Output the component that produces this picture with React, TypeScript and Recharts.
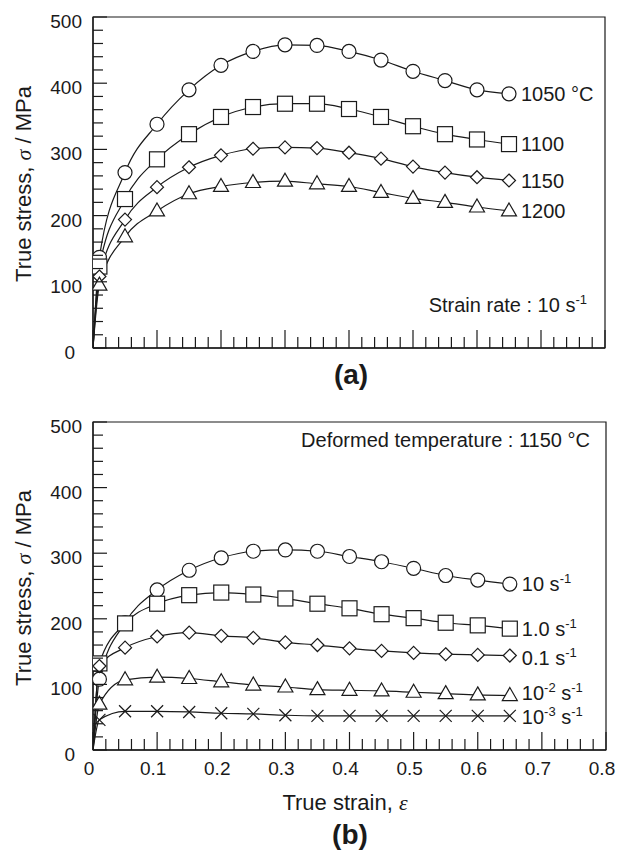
import React from "react";
import { LineChart, Line, XAxis, YAxis, ReferenceArea } from "recharts";

const FONT = '"Liberation Sans", Arial, Helvetica, sans-serif';
const INK = "#1a1a1a";

// strain points where markers sit (0 = origin, no marker)
const strain = [0, 0.01, 0.05, 0.1, 0.15, 0.2, 0.25, 0.3, 0.35, 0.4, 0.45, 0.5, 0.55, 0.6, 0.65];

// (a) strain rate 10 s-1, by temperature
const t1050 = [0, 137, 265, 338, 390, 427, 448, 458, 457, 448, 435, 418, 404, 390, 384];
const t1100 = [0, 123, 225, 285, 323, 349, 364, 369, 369, 361, 349, 335, 323, 315, 308];
const t1150 = [0, 108, 194, 243, 273, 291, 301, 303, 302, 295, 286, 274, 265, 258, 253];
const t1200 = [0, 95, 168, 207, 233, 244, 250, 252, 248, 244, 235, 226, 220, 213, 207];

// (b) 1150 °C, by strain rate
const r10 = [0, 108, 194, 244, 274, 293, 303, 305, 303, 295, 287, 277, 266, 259, 253];
const r1 = [0, 132, 193, 223, 236, 240, 237, 231, 223, 216, 207, 201, 194, 190, 185];
const r01 = [0, 128, 156, 173, 179, 174, 171, 164, 160, 155, 151, 148, 146, 145, 144];
const r001 = [0, 70, 107, 111, 109, 104, 99, 96, 92, 91, 90, 88, 86, 84, 83];
const r0001 = [0, 46, 59, 59, 58, 56, 55, 53, 52, 52, 52, 52, 52, 52, 52];

const xTicks = [
  0, 0.02, 0.04, 0.06, 0.08, 0.1, 0.12, 0.14, 0.16, 0.18, 0.2, 0.22, 0.24, 0.26, 0.28, 0.3,
  0.32, 0.34, 0.36, 0.38, 0.4, 0.42, 0.44, 0.46, 0.48, 0.5, 0.52, 0.54, 0.56, 0.58, 0.6,
  0.62, 0.64, 0.66, 0.68, 0.7, 0.72, 0.74, 0.76, 0.78, 0.8,
];
const yTicks = [
  0, 20, 40, 60, 80, 100, 120, 140, 160, 180, 200, 220, 240, 260, 280, 300,
  320, 340, 360, 380, 400, 420, 440, 460, 480, 500,
];

const sup = (t: string) => (
  <tspan dy={-8} fontSize={13}>{t}</tspan>
);

const seriesA = [
  { key: "t1050", values: t1050, shape: "circle", dy: 0, label: <tspan>1050 °C</tspan> },
  { key: "t1100", values: t1100, shape: "square", dy: 0, label: <tspan>1100</tspan> },
  { key: "t1150", values: t1150, shape: "diamond", dy: 0, label: <tspan>1150</tspan> },
  { key: "t1200", values: t1200, shape: "triangle", dy: 0, label: <tspan>1200</tspan> },
];

const seriesB = [
  { key: "r10", values: r10, shape: "circle", dy: 0, label: <><tspan>10 s</tspan>{sup("-1")}</> },
  { key: "r1", values: r1, shape: "square", dy: 0, label: <><tspan>1.0 s</tspan>{sup("-1")}</> },
  { key: "r01", values: r01, shape: "diamond", dy: 2, label: <><tspan>0.1 s</tspan>{sup("-1")}</> },
  { key: "r001", values: r001, shape: "triangle", dy: -3, label: <><tspan>10</tspan>{sup("-2")}<tspan dy={8} fontSize={20}> s</tspan>{sup("-1")}</> },
  { key: "r0001", values: r0001, shape: "cross", dy: 1, label: <><tspan>10</tspan>{sup("-3")}<tspan dy={8} fontSize={20}> s</tspan>{sup("-1")}</> },
];

const buildData = (series: { key: string; values: number[] }[]) =>
  strain.map((s, i) => {
    const row: Record<string, number> = { strain: s };
    series.forEach((ser) => (row[ser.key] = ser.values[i]));
    return row;
  });

const dataA = buildData(seriesA);
const dataB = buildData(seriesB);

function marker(shape: string, cx: number, cy: number) {
  const st = { fill: "#fff", stroke: INK, strokeWidth: 1.2 };
  switch (shape) {
    case "circle":
      return <circle cx={cx} cy={cy} r={7} {...st} />;
    case "square":
      return <rect x={cx - 7.5} y={cy - 7.5} width={15} height={15} {...st} />;
    case "diamond":
      return <polygon points={`${cx},${cy - 6.5} ${cx + 6.5},${cy} ${cx},${cy + 6.5} ${cx - 6.5},${cy}`} {...st} />;
    case "triangle":
      return <polygon points={`${cx},${cy - 8} ${cx + 7.5},${cy + 5} ${cx - 7.5},${cy + 5}`} {...st} />;
    default:
      return (
        <path d={`M${cx - 6},${cy - 6}L${cx + 6},${cy + 6}M${cx + 6},${cy - 6}L${cx - 6},${cy + 6}`} stroke={INK} strokeWidth={1.2} fill="none" />
      );
  }
}

function makeDot(shape: string, label: React.ReactNode, dy: number) {
  const last = strain.length - 1;
  return (p: any) => {
    const { cx, cy, index } = p;
    if (index === 0 || cx == null || cy == null) return <g key={`d-${index}`} />;
    return (
      <g key={`d-${index}`}>
        {marker(shape, cx, cy)}
        {index === last && (
          <text x={cx + 12} y={cy + 7 + dy} fontSize={20} fontFamily={FONT} fill={INK}>
            {label}
          </text>
        )}
      </g>
    );
  };
}

function XTick(props: any) {
  const { x, y, payload, showLabel } = props;
  const v = payload.value as number;
  const major = Math.round(v * 100) % 10 === 0;
  return (
    <g>
      <line x1={x} x2={x} y1={y} y2={y - (major ? 18 : 11)} stroke={INK} strokeWidth={1.2} />
      {showLabel && major && (
        <text x={x - 4} y={y + 25} textAnchor="middle" fontSize={19} fontFamily={FONT} fill={INK}>
          {String(v)}
        </text>
      )}
    </g>
  );
}

function YTick(props: any) {
  const { x, y, payload } = props;
  const v = payload.value as number;
  const major = v % 100 === 0;
  return (
    <g>
      <line x1={x} x2={x + (major ? 14 : 10)} y1={y} y2={y} stroke={INK} strokeWidth={1.2} />
      {major && (
        <text x={x - (v === 0 ? 18 : 11)} y={y + 11} textAnchor="end" fontSize={19} fontFamily={FONT} fill={INK}>
          {v}
        </text>
      )}
    </g>
  );
}

const AXIS = { stroke: INK, strokeWidth: 1.3 };

function Panel({ data, series, height, margin, xHeight, labels }: any) {
  return (
    <LineChart width={620} height={height} data={data} margin={margin}>
      <XAxis
        dataKey="strain"
        type="number"
        domain={[0, 0.8]}
        ticks={xTicks}
        interval={0}
        tickSize={0}
        tickMargin={0}
        tickLine={false}
        tick={<XTick showLabel={labels} />}
        axisLine={AXIS}
        height={xHeight}
        allowDataOverflow
      />
      <YAxis
        type="number"
        domain={[0, 500]}
        ticks={yTicks}
        interval={0}
        tickSize={0}
        tickMargin={0}
        tickLine={false}
        tick={<YTick />}
        axisLine={AXIS}
        width={93}
      />
      <ReferenceArea x1={0} x2={0.8} y1={0} y2={500} fill="none" stroke={INK} strokeWidth={1.2} />
      {series.map((s: any) => (
        <Line
          key={s.key}
          dataKey={s.key}
          type="monotone"
          stroke={INK}
          strokeWidth={1.2}
          dot={makeDot(s.shape, s.label, s.dy)}
          activeDot={false}
          isAnimationActive={false}
        />
      ))}
    </LineChart>
  );
}

const txt: React.CSSProperties = {
  position: "absolute",
  fontFamily: FONT,
  color: INK,
  lineHeight: 1,
  whiteSpace: "nowrap",
};

function Centered({ x, y, size, bold, rotate, children }: any) {
  return (
    <div
      style={{
        ...txt,
        left: x,
        top: y,
        fontSize: size,
        fontWeight: bold ? 700 : 400,
        transform: `translate(-50%, -50%)${rotate ? " rotate(-90deg)" : ""}`,
      }}
    >
      {children}
    </div>
  );
}

function RightText({ right, y, size, children }: any) {
  return (
    <div style={{ ...txt, right: 620 - right, top: y - size / 2, fontSize: size }}>{children}</div>
  );
}

const Sup = ({ children }: any) => (
  <span style={{ fontSize: 13, position: "relative", top: -8 }}>{children}</span>
);

const YTitle = () => (
  <>
    True stress, <span style={{ fontFamily: '"Liberation Serif", serif', fontStyle: "italic" }}>σ</span> / MPa
  </>
);

export default function App() {
  return (
    <div style={{ position: "absolute", left: 0, top: 0, width: 620, height: 855, background: "#fff", overflow: "hidden" }}>
      <div style={{ position: "absolute", left: 0, top: 0 }}>
        <Panel data={dataA} series={seriesA} height={400} margin={{ top: 17, right: 15, bottom: 0, left: 0 }} xHeight={52} labels={false} />
      </div>
      <div style={{ position: "absolute", left: 0, top: 400 }}>
        <Panel data={dataB} series={seriesB} height={455} margin={{ top: 22, right: 14, bottom: 0, left: 0 }} xHeight={105} labels={true} />
      </div>

      <Centered x={24} y={184} size={22} rotate>
        <YTitle />
      </Centered>
      <Centered x={24} y={588} size={22} rotate>
        <YTitle />
      </Centered>

      <RightText right={587} y={305} size={20}>
        Strain rate : 10 s<Sup>-1</Sup>
      </RightText>
      <RightText right={590} y={440} size={20}>
        Deformed temperature : 1150 °C
      </RightText>

      <Centered x={351} y={375} size={28} bold>
        (a)
      </Centered>
      <Centered x={345} y={803} size={22}>
        True strain, <span style={{ fontFamily: '"Liberation Serif", serif', fontStyle: "italic" }}>ε</span>
      </Centered>
      <Centered x={350} y={835} size={28} bold>
        (b)
      </Centered>
    </div>
  );
}
